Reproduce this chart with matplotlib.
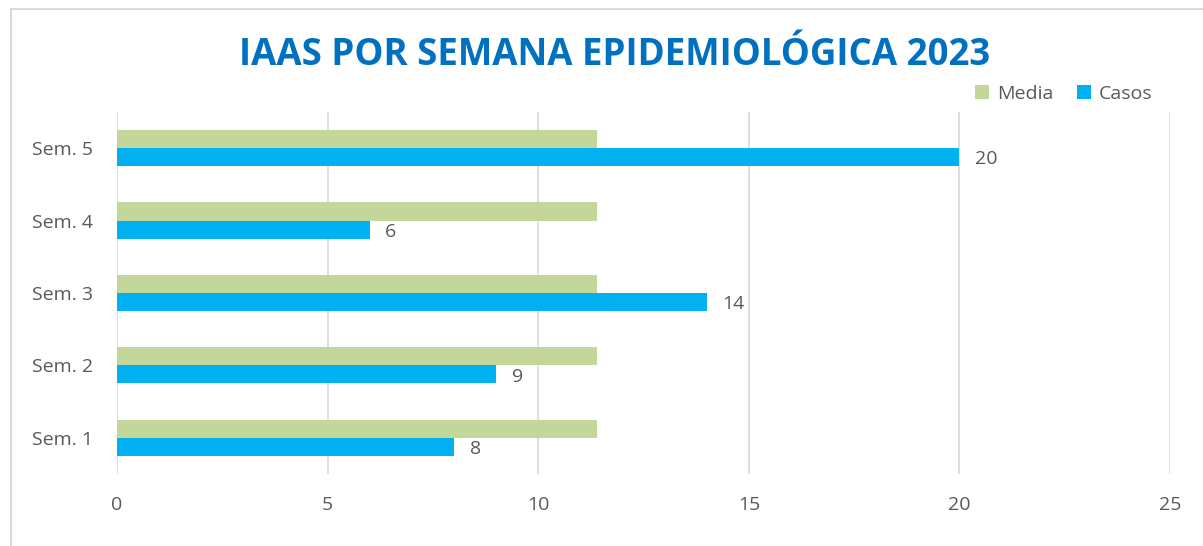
import numpy as np
import matplotlib.pyplot as plt
from matplotlib.patches import Rectangle

semanas = ['Sem. 1', 'Sem. 2', 'Sem. 3', 'Sem. 4', 'Sem. 5']
casos = [8, 9, 14, 6, 20]
media = [11.4, 11.4, 11.4, 11.4, 11.4]

gris = '#595959'
plt.rcParams['font.family'] = ['Open Sans', 'DejaVu Sans']
fs = 14

fig = plt.figure(figsize=(12.03, 5.46), dpi=100)
ax = fig.add_axes([0.0973, 0.1319, 0.8753, 0.663])

# marco del grafico
fig.patches.append(Rectangle((11 / 1203, -0.5), 2, 0.5 + 1 - 9 / 546, transform=fig.transFigure,
                             fill=False, edgecolor='#d9d9d9', linewidth=1.5))

y = np.arange(len(semanas))
h = 0.25
ax.barh(y + h / 2, media, height=h, color='#c4d79b', label='Media', zorder=3)
b = ax.barh(y - h / 2, casos, height=h, color='#00b0f0', label='Casos', zorder=3)
for r, v in zip(b, casos):
    ax.text(v + 0.37, r.get_y() + r.get_height() / 2 - 0.03, str(v), fontsize=fs,
            color=gris, va='center', ha='left')

ax.set_xlim(0, 25)
ax.set_ylim(-0.5, 4.5)
ax.set_xticks(np.arange(0, 26, 5))
ax.set_yticks(y)
ax.set_yticklabels(semanas)
ax.tick_params(length=0, labelsize=fs, colors=gris)
ax.tick_params(axis='x', pad=16)
ax.tick_params(axis='y', pad=17)
ax.grid(axis='x', color='#d9d9d9', linewidth=1.2, zorder=0)
for s in ax.spines.values():
    s.set_visible(False)

ax.legend(loc='center right', bbox_to_anchor=(0.991, 1.05), ncol=2, frameon=False,
          fontsize=fs, labelcolor=gris, handlelength=0.75, handleheight=0.75,
          handletextpad=0.4, columnspacing=1.2, borderaxespad=0)

fig.suptitle('IAAS POR SEMANA EPIDEMIOLÓGICA 2023', x=0.511, y=0.9, va='center',
             fontsize=26.4, fontweight='bold', color='#0070c0')

fig.savefig('out.png', dpi=100)
